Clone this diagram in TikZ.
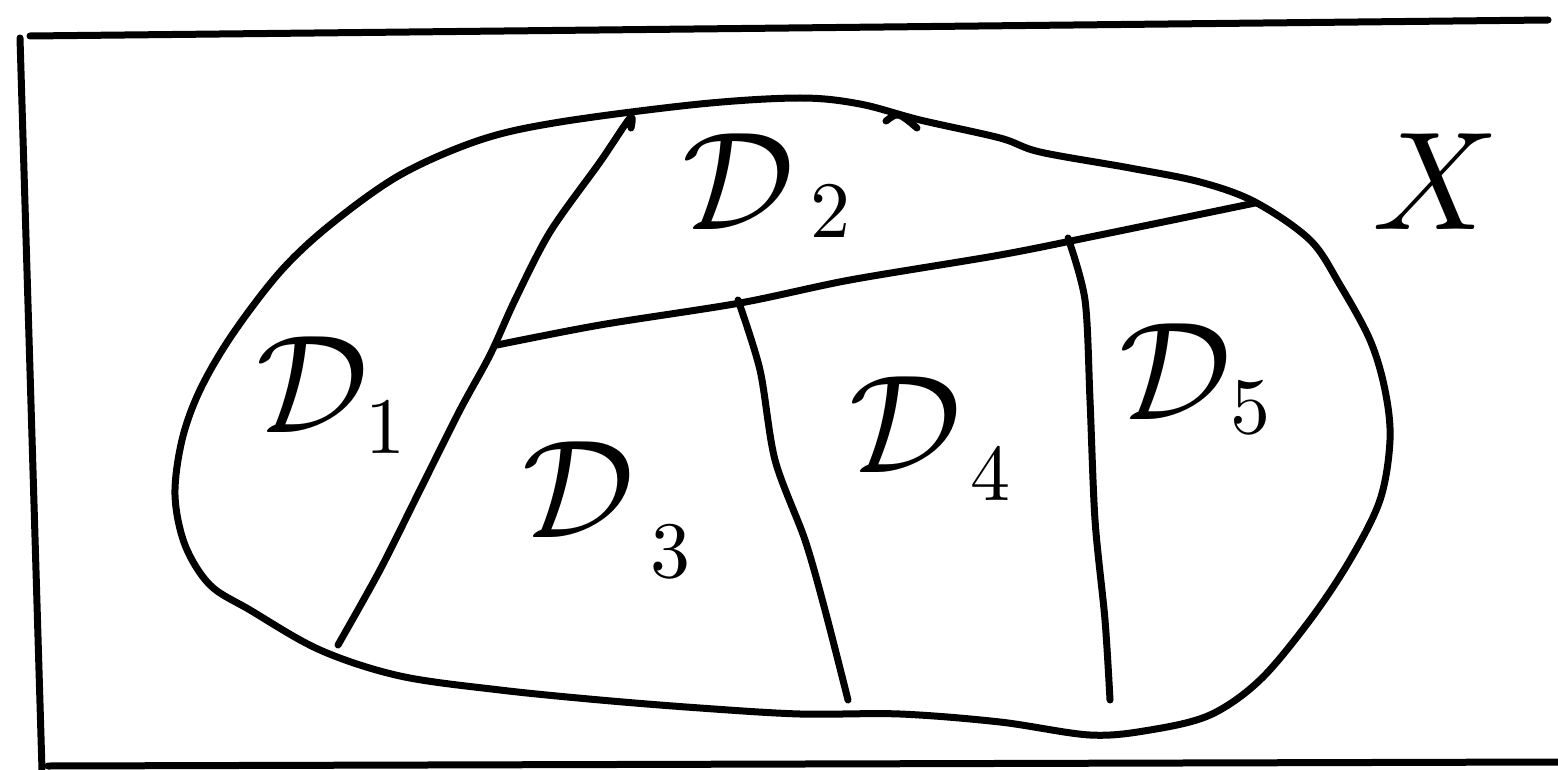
\documentclass[tikz,border=0pt]{standalone}
\usepackage{amsmath}
\begin{document}
\begin{tikzpicture}[x=1pt,y=-1pt,
  stroke/.style={line width=7pt,line cap=round,line join=round},
  lbl/.style={scale=14,inner sep=0pt},
  sub/.style={scale=8,inner sep=0pt}]
\useasboundingbox (0,0) rectangle (1558,770);
% frame
\draw[stroke] (30,36) -- (1548,20);
\draw[stroke] (20,38) -- (42,770);
\draw[stroke] (48,766) -- (1558,762);
% blob
\draw[stroke] plot[smooth cycle,tension=0.55] coordinates {
 (560,122) (700,104) (800,98) (860,104) (920,120) (1000,138) (1040,152)
 (1130,168) (1200,182) (1255,202) (1310,240) (1340,285) (1370,340)
 (1385,390) (1390,440) (1380,500) (1350,560) (1310,620) (1260,680)
 (1210,715) (1150,730) (1090,735) (1000,722) (900,714) (800,714)
 (700,708) (600,700) (500,690) (400,676) (320,650) (250,610) (210,585)
 (185,545) (175,495) (182,440) (200,390) (232,335) (280,272) (330,225)
 (400,175) (480,140)};
% small tick at top
\draw[stroke] (886,121) .. controls (898,112) .. (917,128);
% partition lines
\draw[stroke] plot[smooth,tension=0.5] coordinates {
 (631,128) (630,118) (600,162) (550,232) (515,300) (490,355) (460,410)
 (420,490) (380,570) (338,645)};
\draw[stroke] plot[smooth,tension=0.5] coordinates {
 (497,345) (600,325) (740,303) (850,280) (1000,255) (1100,235) (1255,203)};
\draw[stroke] plot[smooth,tension=0.5] coordinates {
 (738,300) (760,370) (775,460) (805,540) (825,610) (848,700)};
\draw[stroke] plot[smooth,tension=0.5] coordinates {
 (1068,238) (1085,300) (1090,400) (1095,520) (1105,620) (1110,700)};
% labels
\node[lbl] (d1) at (312,385) {$\mathcal{D}$};
\node[sub] (s1) at (385,428) {$1$};
\node[lbl] (d2) at (738,182) {$\mathcal{D}$};
\node[sub] (s2) at (830,212) {$2$};
\node[lbl] (d3) at (578,490) {$\mathcal{D}$};
\node[sub] (s3) at (670,552) {$3$};
\node[lbl] (d4) at (905,425) {$\mathcal{D}$};
\node[sub] (s4) at (990,475) {$4$};
\node[lbl] (d5) at (1175,372) {$\mathcal{D}$};
\node[sub] (s5) at (1250,408) {$5$};
\node[lbl] (X) at (1436,182) {$X$};
\end{tikzpicture}
\end{document}
